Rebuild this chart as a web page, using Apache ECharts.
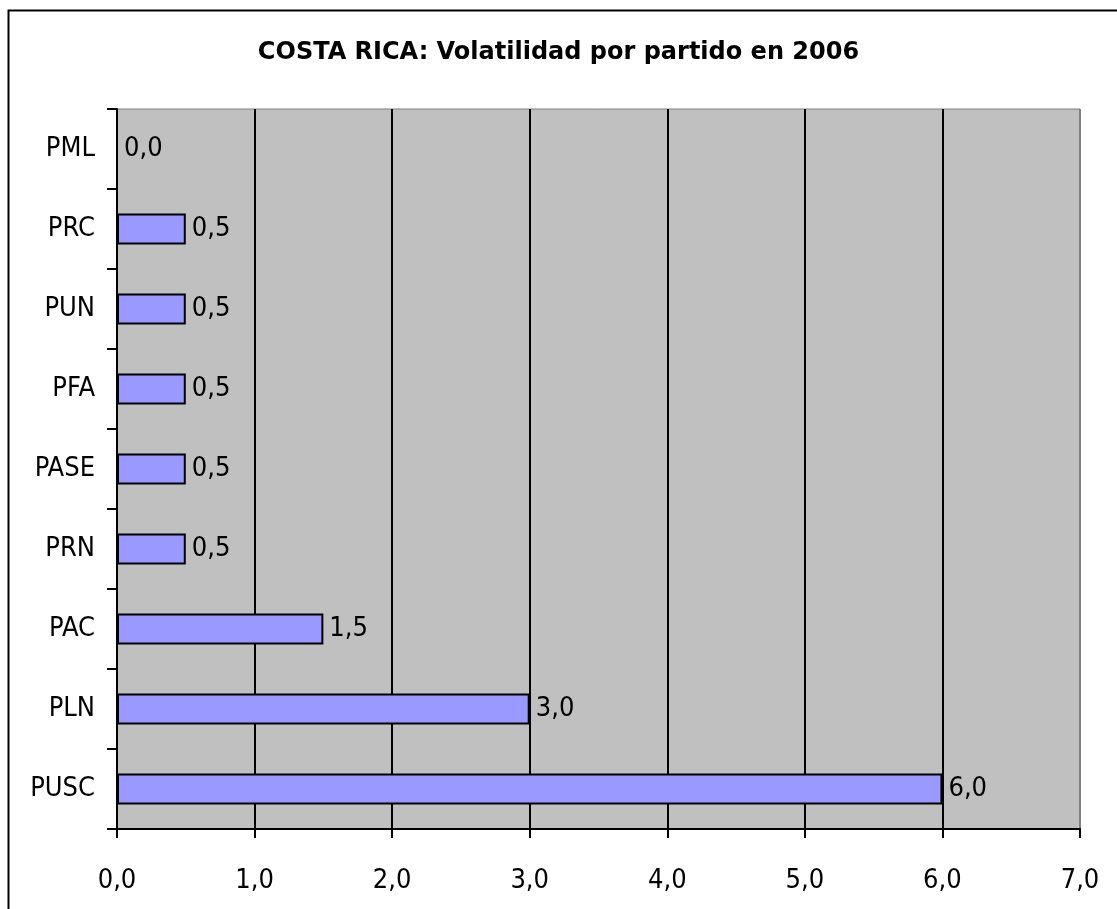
<!DOCTYPE html>
<html>
<head>
<meta charset="utf-8">
<script src="https://cdn.jsdelivr.net/npm/echarts@6/dist/echarts.min.js"></script>
<style>html,body{margin:0;padding:0;background:#fff;}#c{width:1117px;height:909px;}</style>
</head>
<body>
<div id="c"></div>
<script>
var titleText = 'COSTA RICA: Volatilidad por partido en 2006';
var categories = ['PUSC', 'PLN', 'PAC', 'PRN', 'PASE', 'PFA', 'PUN', 'PRC', 'PML'];
var values = [6.0, 3.0, 1.5, 0.5, 0.5, 0.5, 0.5, 0.5, 0.0];
var xTicks = [0, 1, 2, 3, 4, 5, 6, 7];

var FONT = '"DejaVu Sans Condensed", "DejaVu Sans", sans-serif';
var TFONT = '"DejaVu Sans", sans-serif';
function fmt(v){ return Number(v).toFixed(1).replace('.', ','); }

var chart = echarts.init(document.getElementById('c'), null, {renderer: 'canvas'});
var splitColors = xTicks.map(function(t, i){ return i === xTicks.length - 1 ? '#808080' : '#000000'; });
chart.setOption({
  animation: false,
  backgroundColor: '#ffffff',
  title: {
    text: titleText,
    left: 'center',
    top: 36,
    textStyle: {fontFamily: TFONT, fontWeight: 'bold', fontSize: 24, color: '#000'}
  },
  graphic: [{
    type: 'rect',
    left: 6, top: 8,
    shape: {width: 1200, height: 1000},
    style: {fill: 'none', stroke: '#000', lineWidth: 2},
    silent: true, z: 100
  }],
  grid: {
    left: 117, right: 37, top: 109, bottom: 80,
    show: true, backgroundColor: '#C0C0C0', borderColor: '#808080', borderWidth: 1
  },
  xAxis: {
    type: 'value',
    min: xTicks[0], max: xTicks[xTicks.length - 1], interval: 1,
    axisLine: {show: true, lineStyle: {color: '#000', width: 2}},
    axisTick: {show: true, length: 9, lineStyle: {color: '#000', width: 2}},
    axisLabel: {fontFamily: FONT, fontSize: 27, color: '#000', margin: 38, formatter: fmt},
    splitLine: {show: true, lineStyle: {color: splitColors, width: 2}}
  },
  yAxis: {
    type: 'category',
    data: categories,
    axisLine: {show: true, lineStyle: {color: '#000', width: 2}},
    axisTick: {show: true, length: 10, alignWithLabel: false, lineStyle: {color: '#000', width: 2}},
    axisLabel: {fontFamily: FONT, fontSize: 27, color: '#000', margin: 22},
    splitLine: {show: false}
  },
  series: [{
    type: 'bar',
    data: values,
    barWidth: 31,
    itemStyle: {color: '#9999FF', borderColor: '#000', borderWidth: 2},
    label: {
      show: true, position: 'right', distance: 6,
      fontFamily: FONT, fontSize: 27, color: '#000',
      formatter: function(p){ return fmt(p.value); }
    }
  }]
});
</script>
</body>
</html>
